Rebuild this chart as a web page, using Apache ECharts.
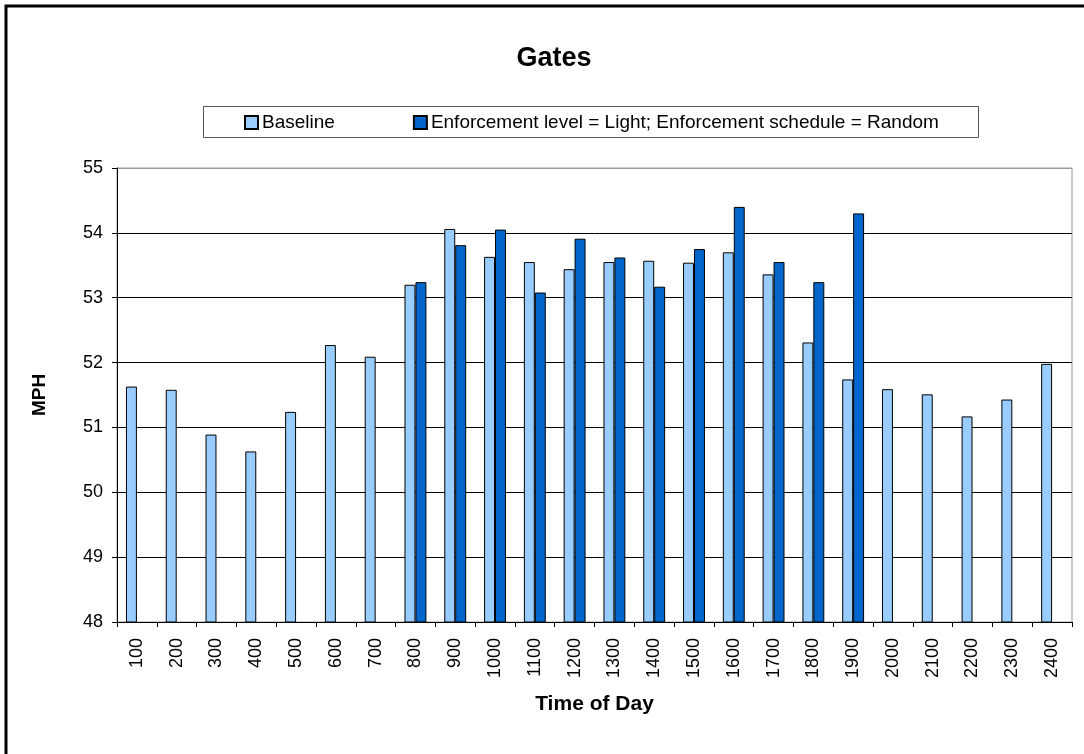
<!DOCTYPE html>
<html>
<head>
<meta charset="utf-8">
<script src="https://cdn.jsdelivr.net/npm/echarts@6/dist/echarts.min.js"></script>
<style>
  html, body { margin: 0; padding: 0; background: #fff; }
  #chart { width: 1084px; height: 754px; }
</style>
</head>
<body>
<div id="chart"></div>
<script>
// time of day categories
const hours = ['100', '200', '300', '400', '500', '600', '700', '800', '900', '1000', '1100', '1200',
  '1300', '1400', '1500', '1600', '1700', '1800', '1900', '2000', '2100', '2200', '2300', '2400']
// baseline speeds (mph)
const baseline = [51.63, 51.58, 50.89, 50.63, 51.24, 52.27, 52.09, 53.20, 54.06, 53.63, 53.55, 53.44,
  53.55, 53.57, 53.54, 53.70, 53.36, 52.31, 51.74, 51.59, 51.51, 51.17, 51.43, 51.98]
// enforcement light / random (only 800-1900)
const enforcement = [null, null, null, null, null, null, null, 53.24, 53.81, 54.05, 53.08, 53.91,
  53.62, 53.17, 53.75, 54.40, 53.55, 53.24, 54.30, null, null, null, null, null]
const yTicks = [48, 49, 50, 51, 52, 53, 54, 55]

const font = 'Liberation Sans, Arial, sans-serif'
const myChart = echarts.init(document.getElementById('chart'))

myChart.setOption({
  animation: false,
  backgroundColor: '#fff',
  textStyle: { fontFamily: font, color: '#000' },
  title: {
    text: 'Gates',
    left: 549,
    textAlign: 'center',
    top: 40,
    textStyle: { fontFamily: font, fontSize: 27, fontWeight: 'bold', color: '#000' }
  },
  graphic: [
    {
      // outer chart border
      type: 'rect',
      shape: { x: 6, y: 6, width: 1100, height: 780 },
      style: { fill: 'none', stroke: '#000', lineWidth: 3 },
      silent: true
    },
    {
      // legend box
      type: 'rect',
      shape: { x: 203.5, y: 106.5, width: 775, height: 31 },
      style: { fill: '#fff', stroke: '#555', lineWidth: 1 },
      z: 0,
      silent: true
    }
  ],
  legend: {
    data: ['Baseline', 'Enforcement level = Light; Enforcement schedule = Random'],
    left: 239,
    top: 108,
    icon: 'rect',
    itemWidth: 13,
    itemHeight: 13,
    itemGap: 78,
    textStyle: { fontFamily: font, fontSize: 19, color: '#000', padding: [0, 0, 0, -1] }
  },
  grid: {
    left: 117,
    right: 12,
    top: 168,
    bottom: 132,
    show: true,
    borderColor: '#999',
    borderWidth: 1
  },
  xAxis: {
    type: 'category',
    data: hours,
    name: 'Time of Day',
    nameLocation: 'middle',
    nameGap: 72,
    nameTextStyle: { fontFamily: font, fontSize: 21, fontWeight: 'bold', color: '#000' },
    axisLine: { lineStyle: { color: '#000', width: 1 } },
    axisTick: { show: true, length: 5, lineStyle: { color: '#000' } },
    axisLabel: { rotate: 90, margin: 16, fontFamily: font, fontSize: 18, color: '#000' }
  },
  yAxis: {
    type: 'value',
    min: yTicks[0],
    max: yTicks[yTicks.length - 1],
    interval: 1,
    name: 'MPH',
    nameLocation: 'middle',
    nameGap: 68,
    nameTextStyle: { fontFamily: font, fontSize: 19, fontWeight: 'bold', color: '#000' },
    axisLine: { show: true, lineStyle: { color: '#000', width: 1 } },
    axisTick: { show: true, length: 5, lineStyle: { color: '#000' } },
    axisLabel: { margin: 14, fontFamily: font, fontSize: 18, color: '#000' },
    splitLine: {
      show: true,
      lineStyle: { color: ['#000', '#000', '#000', '#000', '#000', '#000', '#000', '#999'], width: 1 }
    }
  },
  series: [
    {
      name: 'Baseline',
      type: 'bar',
      data: baseline,
      barGap: '0%',
      barCategoryGap: '45%',
      itemStyle: { color: '#99CCFF', borderColor: '#000', borderWidth: 1 }
    },
    {
      name: 'Enforcement level = Light; Enforcement schedule = Random',
      type: 'bar',
      data: enforcement,
      barGap: '0%',
      barCategoryGap: '45%',
      itemStyle: { color: '#0066CC', borderColor: '#000', borderWidth: 1 }
    }
  ]
})
</script>
</body>
</html>
